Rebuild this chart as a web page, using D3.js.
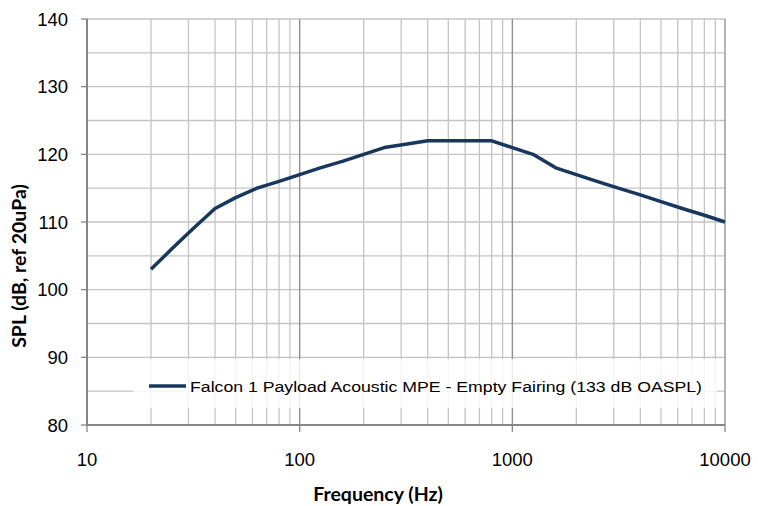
<!DOCTYPE html>
<html lang="en">
<head>
    <meta charset="UTF-8">
    <title>Falcon 1 Payload Acoustic MPE</title>
    <script src="https://d3js.org/d3.v7.min.js"></script>
    <style>
        body { margin: 0; background: #fff; }
        svg { display: block; }
    </style>
</head>
<body>
    <div id="chart"></div>
    <script>
        // 1/3 octave band centre frequencies (Hz) and MPE level (dB)
        var freqs = [20, 25, 31.5, 40, 50, 63, 80, 100, 125, 160, 200, 250, 315, 400, 500, 630, 800,
                     1000, 1250, 1600, 2000, 2500, 3150, 4000, 5000, 6300, 8000, 10000];
        var spl = [103, 106, 109, 112, 113.6, 115, 116, 117, 118, 119, 120, 121, 121.5, 122, 122, 122, 122,
                   121, 120, 118, 117, 116, 115, 114, 113, 112, 111, 110];
        var xTicks = [10, 100, 1000, 10000];
        var yTicks = [80, 90, 100, 110, 120, 130, 140];
        var seriesName = "Falcon 1 Payload Acoustic MPE - Empty Fairing (133 dB OASPL)";

        var W = 758, H = 506;
        var pL = 87, pR = 725, pT = 19, pB = 425;

        var svg = d3.select("#chart").append("svg").attr("width", W).attr("height", H);

        var x = d3.scaleLog().domain([10, 10000]).range([pL, pR]);
        var y = d3.scaleLinear().domain([80, 140]).range([pB, pT]);

        // minor vertical grid (2..9 in every decade)
        var minor = [];
        xTicks.slice(0, -1).forEach(function (d) {
            for (var k = 2; k < 10; k++) minor.push(d * k);
        });
        svg.append("g").selectAll("line").data(minor).enter().append("line")
            .attr("x1", d => x(d)).attr("x2", d => x(d))
            .attr("y1", pT).attr("y2", pB)
            .attr("stroke", "#c4c4c4").attr("stroke-width", 1.3);

        // horizontal grid every 5 dB
        svg.append("g").selectAll("line").data(d3.range(85, 141, 5)).enter().append("line")
            .attr("x1", pL).attr("x2", pR)
            .attr("y1", d => y(d)).attr("y2", d => y(d))
            .attr("stroke", "#c4c4c4").attr("stroke-width", 1.3);

        // decade lines
        svg.append("g").selectAll("line").data(xTicks.slice(1)).enter().append("line")
            .attr("x1", d => x(d)).attr("x2", d => x(d))
            .attr("y1", pT).attr("y2", pB)
            .attr("stroke", "#8c8c8c").attr("stroke-width", 1.3);

        // axes
        svg.append("line").attr("x1", pL).attr("x2", pL).attr("y1", pT).attr("y2", pB + 1)
            .attr("stroke", "#868686").attr("stroke-width", 2);
        svg.append("line").attr("x1", pL - 1).attr("x2", pR).attr("y1", pB).attr("y2", pB)
            .attr("stroke", "#868686").attr("stroke-width", 2);

        svg.append("g").selectAll("line").data(yTicks).enter().append("line")
            .attr("x1", pL - 6).attr("x2", pL)
            .attr("y1", d => y(d)).attr("y2", d => y(d))
            .attr("stroke", "#868686").attr("stroke-width", 1.3);
        svg.append("g").selectAll("line").data(xTicks).enter().append("line")
            .attr("x1", d => x(d)).attr("x2", d => x(d))
            .attr("y1", pB).attr("y2", pB + 7)
            .attr("stroke", "#868686").attr("stroke-width", 1.3);

        svg.append("g").selectAll("text").data(yTicks).enter().append("text")
            .attr("x", 68).attr("y", d => y(d) + 6.5)
            .attr("text-anchor", "end")
            .attr("font-family", "Liberation Sans, Arial, sans-serif").attr("font-size", 18.5)
            .attr("fill", "#000")
            .text(d => d);
        svg.append("g").selectAll("text").data(xTicks).enter().append("text")
            .attr("x", d => x(d)).attr("y", 466)
            .attr("text-anchor", "middle")
            .attr("font-family", "Liberation Sans, Arial, sans-serif").attr("font-size", 18.5)
            .attr("fill", "#000")
            .text(d => d);

        // data line
        var line = d3.line().x((d, i) => x(freqs[i])).y(d => y(d));
        svg.append("path").datum(spl)
            .attr("d", line)
            .attr("fill", "none")
            .attr("stroke", "#17375e")
            .attr("stroke-width", 3.5)
            .attr("stroke-linejoin", "round");

        // legend
        svg.append("rect").attr("x", 133).attr("y", 359).attr("width", 584).attr("height", 49)
            .attr("fill", "#fff").attr("fill-opacity", 0.82);
        svg.append("line").attr("x1", 149).attr("x2", 186).attr("y1", 386).attr("y2", 386)
            .attr("stroke", "#17375e").attr("stroke-width", 3.5);
        svg.append("text").attr("x", 190).attr("y", 392)
            .attr("font-family", "Liberation Sans, Arial, sans-serif").attr("font-size", 15.5)
            .attr("textLength", 512).attr("lengthAdjust", "spacingAndGlyphs")
            .text(seriesName);

        // axis titles
        svg.append("text").attr("x", 378).attr("y", 501)
            .attr("text-anchor", "middle")
            .attr("font-family", "Lato, Open Sans, sans-serif").attr("font-weight", "bold").attr("font-size", 19.5)
            .text("Frequency (Hz)");
        svg.append("text")
            .attr("transform", "translate(26,266) rotate(-90)")
            .attr("text-anchor", "middle")
            .attr("font-family", "Lato, Open Sans, sans-serif").attr("font-weight", "bold").attr("font-size", 19.5)
            .text("SPL (dB, ref 20uPa)");
    </script>
</body>
</html>
